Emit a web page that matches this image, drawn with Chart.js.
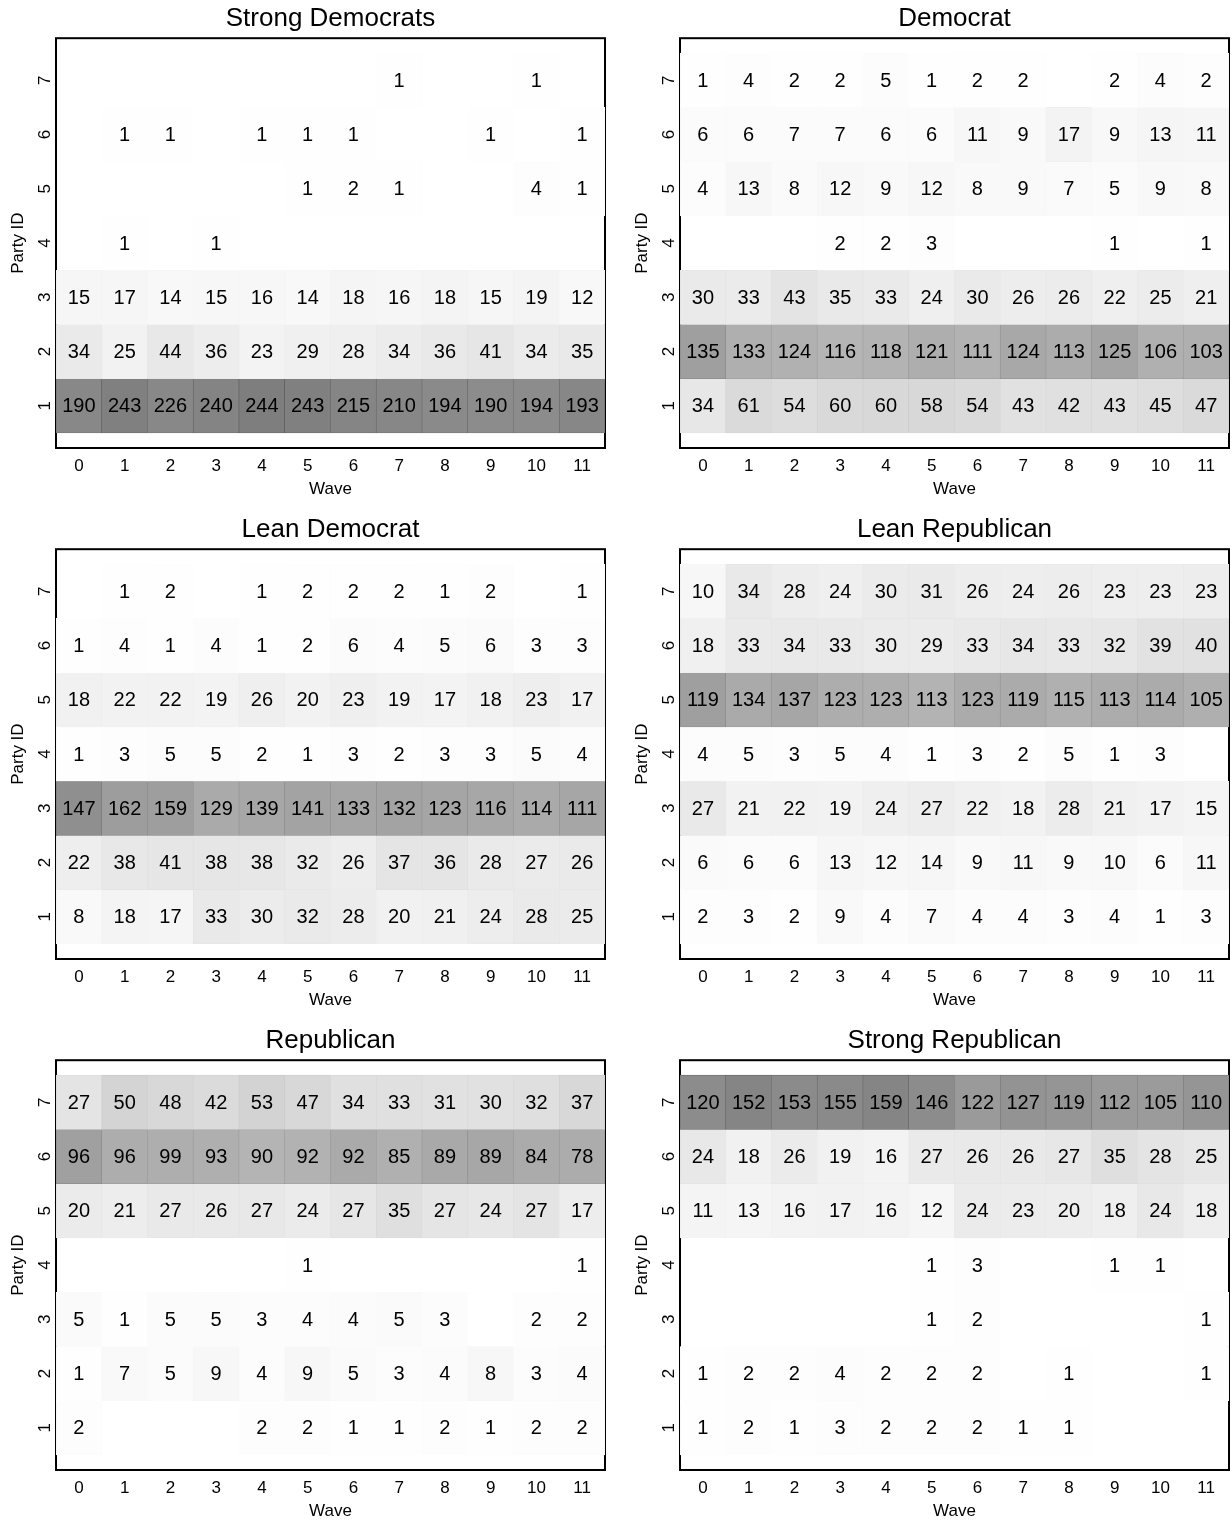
<!DOCTYPE html>
<html>
<head>
<meta charset="utf-8">
<script src="https://cdn.jsdelivr.net/npm/chart.js@4.4.1/dist/chart.umd.min.js"></script>
<style>
  html, body { margin: 0; padding: 0; background: #fff; }
  #wrap { position: relative; width: 1232px; height: 1522px; }
  .panel { position: absolute; }
</style>
</head>
<body>
<div id="wrap">
  <div class="panel" style="left:0;top:0"><canvas id="c0" width="616" height="500"></canvas></div>
  <div class="panel" style="left:624px;top:0"><canvas id="c1" width="608" height="500"></canvas></div>
  <div class="panel" style="left:0;top:511px"><canvas id="c2" width="616" height="500"></canvas></div>
  <div class="panel" style="left:624px;top:511px"><canvas id="c3" width="608" height="500"></canvas></div>
  <div class="panel" style="left:0;top:1022px"><canvas id="c4" width="616" height="500"></canvas></div>
  <div class="panel" style="left:624px;top:1022px"><canvas id="c5" width="608" height="500"></canvas></div>
</div>
<script>
const FONT = '"Liberation Sans", Arial, Helvetica, sans-serif';

const WAVES = ['0', '1', '2', '3', '4', '5', '6', '7', '8', '9', '10', '11'];
const PARTY_ID = [7, 6, 5, 4, 3, 2, 1];   // row order, top to bottom

// counts per Party ID row (7 at top ... 1 at bottom), one value per wave; null = empty cell
const strongDemocrats = [
  [null, null, null, null, null, null, null, 1, null, null, 1, null],
  [null, 1, 1, null, 1, 1, 1, null, null, 1, null, 1],
  [null, null, null, null, null, 1, 2, 1, null, null, 4, 1],
  [null, 1, null, 1, null, null, null, null, null, null, null, null],
  [15, 17, 14, 15, 16, 14, 18, 16, 18, 15, 19, 12],
  [34, 25, 44, 36, 23, 29, 28, 34, 36, 41, 34, 35],
  [190, 243, 226, 240, 244, 243, 215, 210, 194, 190, 194, 193]
];

const democrat = [
  [1, 4, 2, 2, 5, 1, 2, 2, null, 2, 4, 2],
  [6, 6, 7, 7, 6, 6, 11, 9, 17, 9, 13, 11],
  [4, 13, 8, 12, 9, 12, 8, 9, 7, 5, 9, 8],
  [null, null, null, 2, 2, 3, null, null, null, 1, null, 1],
  [30, 33, 43, 35, 33, 24, 30, 26, 26, 22, 25, 21],
  [135, 133, 124, 116, 118, 121, 111, 124, 113, 125, 106, 103],
  [34, 61, 54, 60, 60, 58, 54, 43, 42, 43, 45, 47]
];

const leanDemocrat = [
  [null, 1, 2, null, 1, 2, 2, 2, 1, 2, null, 1],
  [1, 4, 1, 4, 1, 2, 6, 4, 5, 6, 3, 3],
  [18, 22, 22, 19, 26, 20, 23, 19, 17, 18, 23, 17],
  [1, 3, 5, 5, 2, 1, 3, 2, 3, 3, 5, 4],
  [147, 162, 159, 129, 139, 141, 133, 132, 123, 116, 114, 111],
  [22, 38, 41, 38, 38, 32, 26, 37, 36, 28, 27, 26],
  [8, 18, 17, 33, 30, 32, 28, 20, 21, 24, 28, 25]
];

const leanRepublican = [
  [10, 34, 28, 24, 30, 31, 26, 24, 26, 23, 23, 23],
  [18, 33, 34, 33, 30, 29, 33, 34, 33, 32, 39, 40],
  [119, 134, 137, 123, 123, 113, 123, 119, 115, 113, 114, 105],
  [4, 5, 3, 5, 4, 1, 3, 2, 5, 1, 3, null],
  [27, 21, 22, 19, 24, 27, 22, 18, 28, 21, 17, 15],
  [6, 6, 6, 13, 12, 14, 9, 11, 9, 10, 6, 11],
  [2, 3, 2, 9, 4, 7, 4, 4, 3, 4, 1, 3]
];

const republican = [
  [27, 50, 48, 42, 53, 47, 34, 33, 31, 30, 32, 37],
  [96, 96, 99, 93, 90, 92, 92, 85, 89, 89, 84, 78],
  [20, 21, 27, 26, 27, 24, 27, 35, 27, 24, 27, 17],
  [null, null, null, null, null, 1, null, null, null, null, null, 1],
  [5, 1, 5, 5, 3, 4, 4, 5, 3, null, 2, 2],
  [1, 7, 5, 9, 4, 9, 5, 3, 4, 8, 3, 4],
  [2, null, null, null, 2, 2, 1, 1, 2, 1, 2, 2]
];

const strongRepublican = [
  [120, 152, 153, 155, 159, 146, 122, 127, 119, 112, 105, 110],
  [24, 18, 26, 19, 16, 27, 26, 26, 27, 35, 28, 25],
  [11, 13, 16, 17, 16, 12, 24, 23, 20, 18, 24, 18],
  [null, null, null, null, null, 1, 3, null, null, 1, 1, null],
  [null, null, null, null, null, 1, 2, null, null, null, null, 1],
  [1, 2, 2, 4, 2, 2, 2, null, 1, null, null, 1],
  [1, 2, 1, 3, 2, 2, 2, 1, 1, null, null, null]
];

const PANELS = [
  { id: 'c0', title: 'Strong Democrats', counts: strongDemocrats },
  { id: 'c1', title: 'Democrat', counts: democrat },
  { id: 'c2', title: 'Lean Democrat', counts: leanDemocrat },
  { id: 'c3', title: 'Lean Republican', counts: leanRepublican },
  { id: 'c4', title: 'Republican', counts: republican },
  { id: 'c5', title: 'Strong Republican', counts: strongRepublican }
];

// box round the plot area, drawn under the cells
const framePlugin = {
  id: 'frame',
  beforeDatasetsDraw(chart) {
    const { ctx, chartArea: a } = chart;
    ctx.save();
    ctx.strokeStyle = '#000';
    ctx.lineWidth = 2;
    ctx.strokeRect(a.left, a.top, a.right - a.left, a.bottom - a.top);
    ctx.restore();
  }
};

// count printed in the middle of each cell
const cellLabels = {
  id: 'cellLabels',
  afterDatasetsDraw(chart) {
    const ctx = chart.ctx;
    ctx.save();
    ctx.font = '20px ' + FONT;
    ctx.fillStyle = '#000';
    ctx.textAlign = 'center';
    ctx.textBaseline = 'middle';
    chart.data.datasets.forEach((ds, i) => {
      chart.getDatasetMeta(i).data.forEach((bar, j) => {
        const v = ds.counts[j];
        if (!v) return;
        const p = bar.getProps(['x', 'y', 'base'], true);
        ctx.fillText(String(v), p.x, (p.y + p.base) / 2 + 1);
      });
    });
    ctx.restore();
  }
};

function grey(d) {
  const g = Math.max(0, Math.round(255 - d));
  return 'rgb(' + g + ',' + g + ',' + g + ')';
}

function makePanel(panel, rightPad) {
  const counts = panel.counts;
  // share of each wave's respondents sitting in a cell sets its shade
  const totals = WAVES.map((w, j) => counts.reduce((s, row) => s + (row[j] || 0), 0));

  const datasets = PARTY_ID.map((pid, i) => {
    const row = counts[i];
    return {
      label: 'Party ID ' + pid,
      counts: row,
      data: row.map(v => (v ? [pid - 0.5, pid + 0.5] : null)),
      backgroundColor: row.map((v, j) => grey(150 * (v || 0) / totals[j])),
      borderColor: row.map((v, j) => grey(195 * (v || 0) / totals[j])),
      borderWidth: 0.6,
      borderSkipped: false,
      grouped: false,
      barPercentage: 1,
      categoryPercentage: 1
    };
  });

  const axisFont = { family: FONT, size: 17 };

  return new Chart(document.getElementById(panel.id), {
    type: 'bar',
    data: { labels: WAVES, datasets },
    plugins: [framePlugin, cellLabels],
    options: {
      responsive: false,
      animation: false,
      events: [],
      layout: { padding: { left: 0, right: rightPad, top: 0, bottom: 0 } },
      plugins: {
        legend: { display: false },
        tooltip: { enabled: false },
        title: {
          display: true,
          text: panel.title,
          fullSize: false,
          color: '#000',
          font: { family: FONT, size: 26, weight: 'normal' },
          padding: { top: 3, bottom: 4 }
        }
      },
      scales: {
        x: {
          type: 'category',
          offset: true,
          grid: { display: false, drawTicks: false },
          border: { display: false },
          ticks: { color: '#000', font: axisFont, padding: 8, maxRotation: 0, autoSkip: false },
          title: { display: true, text: 'Wave', color: '#000', font: axisFont, padding: { top: 0, bottom: 0 } },
          afterFit(s) { s.height = 52; }
        },
        y: {
          type: 'linear',
          min: 0.224,
          max: 7.776,
          grid: { display: false, drawTicks: false },
          border: { display: false },
          afterBuildTicks(s) { s.ticks = PARTY_ID.map(v => ({ value: v })); },
          ticks: { color: '#000', font: axisFont, minRotation: 90, maxRotation: 90, crossAlign: 'center', padding: 6 },
          title: { display: true, text: 'Party ID', color: '#000', font: axisFont, padding: { top: 8, bottom: 0 } },
          afterFit(s) { s.width = 56; }
        }
      }
    }
  });
}

// left column canvases are wider, so both plot areas end where the reference does
PANELS.forEach((p, k) => makePanel(p, k % 2 === 0 ? 11 : 3));
</script>
</body>
</html>
